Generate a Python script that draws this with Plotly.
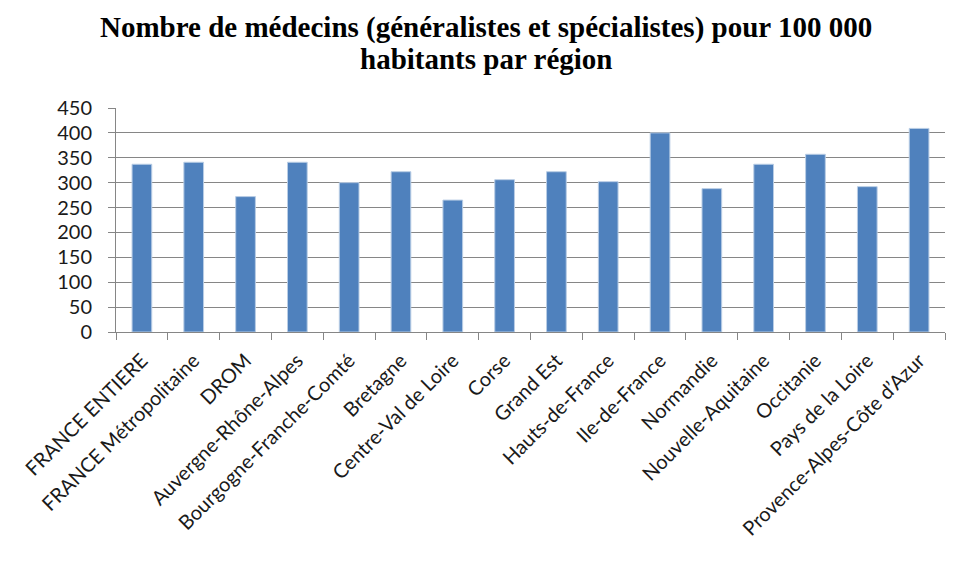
import plotly.graph_objects as go

regions = ["FRANCE ENTIERE", "FRANCE Métropolitaine", "DROM", "Auvergne-Rhône-Alpes",
           "Bourgogne-Franche-Comté", "Bretagne", "Centre-Val de Loire", "Corse",
           "Grand Est", "Hauts-de-France", "Ile-de-France", "Normandie",
           "Nouvelle-Aquitaine", "Occitanie", "Pays de la Loire", "Provence-Alpes-Côte d’Azur"]
medecins = [337, 341, 272, 341, 300, 322, 265, 306, 322, 302, 400, 288, 337, 357, 292, 409]
y_ticks = [0, 50, 100, 150, 200, 250, 300, 350, 400, 450]
title_lines = ["Nombre de médecins (généralistes et spécialistes) pour 100 000",
               "habitants par région"]

# page has an 8px body margin; figure origin sits at page (8, 8)
W, H = 951, 560
L, R, T, B = 99, 14, 100, 236
ph = H - T - B

fig = go.Figure(go.Bar(
    x=regions, y=medecins,
    marker=dict(color="#4F81BD", line=dict(color="#B9CDE5", width=1)),
))

annotations = []
for text, fy in zip(title_lines, [19, 51]):
    annotations.append(dict(
        text=text, xref="paper", yref="paper",
        x=(473.5 - L) / (W - L - R), y=(H - B - fy) / ph,
        xanchor="center", yanchor="middle", showarrow=False,
        font=dict(family="Liberation Serif", size=29, color="black", weight="bold"),
    ))

fig.update_layout(
    width=W, height=H,
    margin=dict(l=L, r=R, t=T, b=B),
    paper_bgcolor="white", plot_bgcolor="white",
    bargap=0.62,
    showlegend=False,
    annotations=annotations,
)
fig.update_xaxes(
    tickangle=-45, tickson="boundaries", ticks="outside", ticklen=7, tickcolor="#868686",
    showline=True, linecolor="#868686", linewidth=1,
    tickfont=dict(family="Lato", size=20, color="#1a1a1a"),
    ticklabelstandoff=8,
    showgrid=False,
)
fig.update_yaxes(
    range=[0, 450], tickvals=y_ticks, ticks="outside", ticklen=7, tickcolor="#868686",
    showline=True, linecolor="#868686", linewidth=1,
    showgrid=True, gridcolor="#868686", gridwidth=1,
    tickfont=dict(family="Lato", size=20, color="#1a1a1a"),
    ticklabelstandoff=12,
    zeroline=False,
)

fig.write_html("out.html")
